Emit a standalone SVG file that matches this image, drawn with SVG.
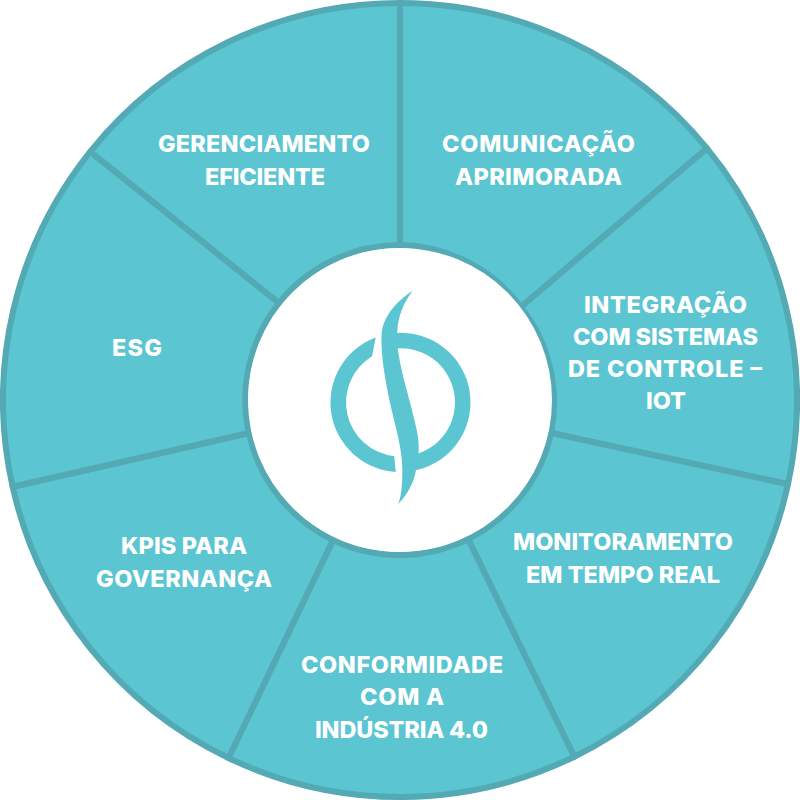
<svg xmlns="http://www.w3.org/2000/svg" width="800" height="800" viewBox="0 0 800 800">
<style>
.w{fill:#5bc5d1;stroke:#53a9b4;stroke-width:6;stroke-linejoin:round}
.t{font-family:"Inter","Liberation Sans",sans-serif;font-weight:800;font-size:23.5px;fill:#fff}
.l{fill:#5bc5d1}
</style>
<rect width="800" height="800" fill="#fff"/>
<g id="connectors"></g>
<g id="n1"><path class="w" d="M400 3A397 397 0 0 1 707 148.300L521 307A155 155 0 0 0 400 245Z"/>
<text class="t" x="442" y="152" textLength="193">COMUNICAÇÃO</text><text class="t" x="455" y="185" textLength="167">APRIMORADA</text></g>
<g id="n2"><path class="w" d="M707 148.300A397 397 0 0 1 788 484.200L551 433A155 155 0 0 0 521 307Z"/>
<text class="t" x="584" y="313" textLength="163">INTEGRAÇÃO</text><text class="t" x="573" y="345" textLength="185">COM SISTEMAS</text><text class="t" x="568" y="377" textLength="194">DE CONTROLE –</text><text class="t" x="646" y="409" textLength="40">IOT</text></g>
<g id="n3"><path class="w" d="M788 484.200A397 397 0 0 1 574.300 756.700L468 539A155 155 0 0 0 551 433Z"/>
<text class="t" x="513" y="550" textLength="220">MONITORAMENTO</text><text class="t" x="526" y="583" textLength="194">EM TEMPO REAL</text></g>
<g id="n4"><path class="w" d="M574.300 756.700A397 397 0 0 1 228.500 758L333 540A155 155 0 0 0 468 539Z"/>
<text class="t" x="301" y="673" textLength="202">CONFORMIDADE</text><text class="t" x="360" y="705" textLength="84">COM A</text><text class="t" x="315" y="738" textLength="173">INDÚSTRIA 4.0</text></g>
<g id="n5"><path class="w" d="M228.500 758A397 397 0 0 1 12.600 486.700L249 433A155 155 0 0 0 333 540Z"/>
<text class="t" x="121" y="554" textLength="126">KPIS PARA</text><text class="t" x="96" y="587" textLength="176">GOVERNANÇA</text></g>
<g id="n6"><path class="w" d="M12.600 486.700A397 397 0 0 1 90.300 151.600L279 303A155 155 0 0 0 249 433Z"/>
<text class="t" x="112" y="356" textLength="50">ESG</text></g>
<g id="n7"><path class="w" d="M90.300 151.600A397 397 0 0 1 400 3V245A155 155 0 0 0 279 303Z"/>
<text class="t" x="158" y="152" textLength="212">GERENCIAMENTO</text><text class="t" x="205" y="185" textLength="120">EFICIENTE</text></g>
<g id="center"><circle cx="400" cy="400" r="152" fill="#fff" stroke="none"/>
<path class="l" d="M375.700 337.400A69.500 69.500 0 0 0 395.700 471.900L394.300 456.200A54 54 0 0 1 372.100 356.300Z"/>
<path class="l" d="M392 333.460A69.500 69.500 0 0 1 410 471.300L410 455.600A54 54 0 0 0 392 349.100Z"/>
<path class="l" d="M412.700 290.700C398 300 383 316 381.700 333.300C380.500 350 384 378 393.300 416.700C398 436 403 455 402.300 475C402 488 401 497 398.300 504C407 495 414 483 416 470C419 456 420 445 416.700 430C413 412 405 385 401.700 370C398 353 396.500 342 397.300 331.700C398 316 404 302 412.700 290.700Z"/></g>
</svg>
